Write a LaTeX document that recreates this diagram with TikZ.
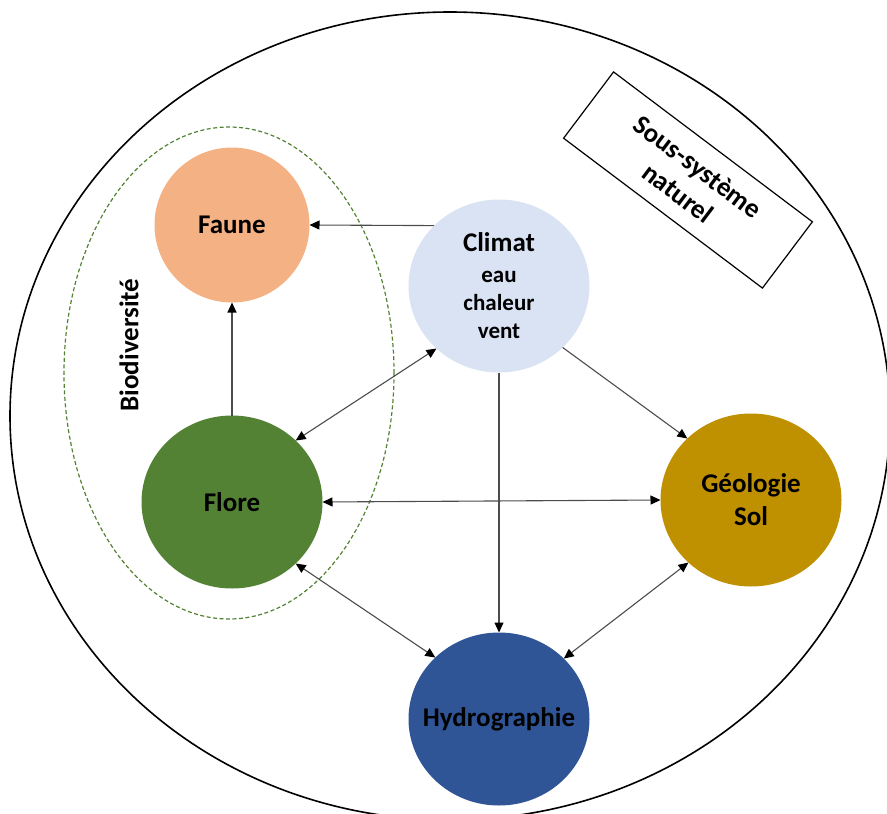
\documentclass[tikz,border=0pt]{standalone}
\usepackage{fontspec}
\setmainfont{Carlito}
\usetikzlibrary{arrows.meta,shapes.geometric}
\definecolor{fauneC}{HTML}{F4B183}
\definecolor{floreC}{HTML}{548235}
\definecolor{climatC}{HTML}{DAE3F3}
\definecolor{geoC}{HTML}{BF9000}
\definecolor{hydroC}{HTML}{2F5597}
\begin{document}
\begin{tikzpicture}[x=1pt,y=-1pt,
  bubble/.style={ellipse, minimum width=181pt, minimum height=173pt,
    inner sep=0pt, outer sep=0pt, align=center,
    font=\bfseries\fontsize{27}{33}\selectfont},
  link/.style={draw=black!70, line width=1.1pt, -{Triangle[length=10pt,width=9pt,color=black]}},
  both/.style={draw=black!70, line width=1.1pt,
    {Triangle[length=10pt,width=9pt,color=black]}-{Triangle[length=10pt,width=9pt,color=black]}},
  label/.style={font=\bfseries\fontsize{27}{33}\selectfont, align=center, inner sep=0pt}]
\useasboundingbox (0,0) rectangle (887,814);
\clip (0,0) rectangle (887,814);

% outer boundary of the natural sub-system
\draw[line width=1.6pt] (450,416) ellipse [x radius=440, y radius=404];

% biodiversity group
\draw[floreC, line width=1.2pt, dash pattern=on 4pt off 2.5pt]
  (229,373) ellipse [x radius=165, y radius=246];
\node[label, rotate=90] (biodiv) at (129,345) {Biodiversité};

% components
\node[bubble, fill=fauneC, minimum width=155pt, minimum height=155pt] (faune) at (232,225) {Faune};
\node[bubble, fill=floreC] (flore) at (232,502) {Flore};
\node[bubble, fill=climatC, font=\bfseries\fontsize{23}{28}\selectfont] (climat) at (499,286)
  {\fontsize{27}{28}\selectfont Climat\\[3pt]\fontsize{23}{28}\selectfont eau\\chaleur\\vent};
\node[bubble, fill=geoC] (geologie) at (751,500) {Géologie\\Sol};
\node[bubble, fill=hydroC] (hydro) at (499,719) {\makebox[0pt]{Hydrographie}};

% title box
\node[label, draw, line width=1.2pt, minimum width=249pt, minimum height=83pt, rotate=-37]
  (soussys) at (688,180) {Sous-système\\naturel};

% interactions
\draw[link] (climat.137) -- (faune.east);
\draw[link] (flore.north) -- (faune.south);
\draw[both] (flore.44) -- (climat.225);
\draw[link] (climat.316) -- (geologie.136);
\draw[link] (climat.south) -- (hydro.north);
\draw[both] (flore.east) -- (geologie.west);
\draw[both] (flore.-44) -- (hydro.136);
\draw[both] (hydro.43) -- (geologie.225);
\end{tikzpicture}
\end{document}
